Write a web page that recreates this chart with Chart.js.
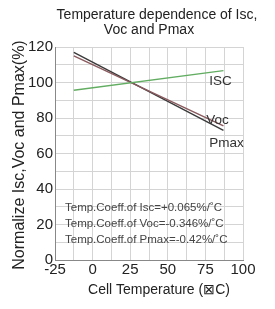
<!DOCTYPE html>
<html>
<head>
<meta charset="utf-8">
<script src="https://cdn.jsdelivr.net/npm/chart.js@4/dist/chart.umd.min.js"></script>
<style>
  html, body { margin: 0; padding: 0; background: #fff; }
  #wrap { width: 275px; height: 309px; }
</style>
</head>
<body>
<div id="wrap"><canvas id="tempChart"></canvas></div>
<script>
// values
const iscPoints = [{ x: -12.5, y: 95.6 }, { x: 87, y: 106.7 }];
const vocPoints = [{ x: -12.5, y: 115 }, { x: 87, y: 75.5 }];
const pmaxPoints = [{ x: -12.5, y: 117 }, { x: 87, y: 73 }];
const xTicks = [-25, 0, 25, 50, 75, 100];
const yTicks = [0, 20, 40, 60, 80, 100, 120];
const titleLines = ["Temperature dependence of Isc,", "Voc and Pmax"];
const xTitle = "Cell Temperature (⊠C)";
const yTitle = "Normalize Isc,Voc and Pmax(%)";
const coeffNotes = [
    "Temp.Coeff.of Isc=+0.065%/˚C",
    "Temp.Coeff.of Voc=-0.346%/˚C",
    "Temp.Coeff.of Pmax=-0.42%/˚C"
];
const lineLabels = [
    { text: "ISC", x: 85, y: 100.5 },
    { text: "Voc", x: 83, y: 78.5 },
    { text: "Pmax", x: 89, y: 66 }
];

const FONT = "'Liberation Sans', Arial, sans-serif";

// titles and notes drawn on the canvas
const notesPlugin = {
    id: "notes",
    afterDraw(chart) {
        const c = chart.ctx;
        const area = chart.chartArea;
        const xs = chart.scales.x, ys = chart.scales.y;
        const mid = (area.left + area.right) / 2;
        c.save();
        c.textBaseline = "middle";
        c.textAlign = "center";
        c.fillStyle = "#222";
        c.font = "14px " + FONT;
        c.fillText(titleLines[0], mid + 8, 15);
        c.fillText(titleLines[1], mid, 30);

        c.font = "14px " + FONT;
        c.fillText(xTitle, mid + 10, 290);

        c.save();
        c.translate(20, 155);
        c.rotate(-Math.PI / 2);
        c.font = "16px " + FONT;
        c.fillText(yTitle, 0, 0);
        c.restore();

        c.fillStyle = "#444";
        c.font = "11.5px " + FONT;
        c.textAlign = "left";
        coeffNotes.forEach(function (t, i) {
            c.fillText(t, area.left + 10, area.bottom - 52 + i * 16);
        });
        c.fillStyle = "#333";
        c.font = "13.5px " + FONT;
        c.textAlign = "center";
        lineLabels.forEach(function (l) {
            c.fillText(l.text, xs.getPixelForValue(l.x), ys.getPixelForValue(l.y));
        });
        c.restore();
    }
};

document.addEventListener("DOMContentLoaded", function () {
    const ctx = document.getElementById("tempChart").getContext("2d");
    new Chart(ctx, {
        type: "line",
        data: {
            datasets: [{
                label: "Isc",
                data: iscPoints,
                borderColor: "#62ad62",
                borderWidth: 1.4,
                pointRadius: 0
            }, {
                label: "Voc",
                data: vocPoints,
                borderColor: "#8a5a5e",
                borderWidth: 1.4,
                pointRadius: 0
            }, {
                label: "Pmax",
                data: pmaxPoints,
                borderColor: "#3a3a3a",
                borderWidth: 1.4,
                pointRadius: 0
            }]
        },
        options: {
            responsive: true,
            maintainAspectRatio: false,
            animation: false,
            layout: { padding: { left: 2, right: 32, bottom: 4, top: 47 } },
            plugins: {
                legend: { display: false },
                tooltip: { enabled: false },
                title: { display: false }
            },
            scales: {
                x: {
                    type: "linear",
                    min: xTicks[0],
                    max: xTicks[xTicks.length - 1],
                    afterFit: function (s) { s.height = 45; },
                    afterBuildTicks: function (s) {
                        const t = [];
                        for (let v = xTicks[0]; v <= xTicks[xTicks.length - 1]; v += 12.5) t.push({ value: v });
                        s.ticks = t;
                    },
                    ticks: {
                        color: "#222",
                        font: { family: FONT, size: 15 },
                        padding: 1,
                        maxRotation: 0,
                        autoSkip: false,
                        callback: function (v) { return xTicks.includes(v) ? String(v) : ""; }
                    },
                    grid: { color: "#d4d4d4", drawTicks: false },
                    border: { color: "#888", width: 1 }
                },
                y: {
                    min: yTicks[0],
                    max: yTicks[yTicks.length - 1],
                    afterFit: function (s) { s.width = 53; },
                    afterBuildTicks: function (s) {
                        const t = [];
                        for (let v = yTicks[0]; v <= yTicks[yTicks.length - 1]; v += 10) t.push({ value: v });
                        s.ticks = t;
                    },
                    ticks: {
                        color: "#222",
                        font: { family: FONT, size: 15 },
                        padding: 2,
                        autoSkip: false,
                        callback: function (v) { return yTicks.includes(v) ? String(v) : ""; }
                    },
                    grid: { color: "#d4d4d4", drawTicks: false },
                    border: { color: "#888", width: 1 }
                }
            }
        },
        plugins: [notesPlugin]
    });
});
</script>
</body>
</html>
